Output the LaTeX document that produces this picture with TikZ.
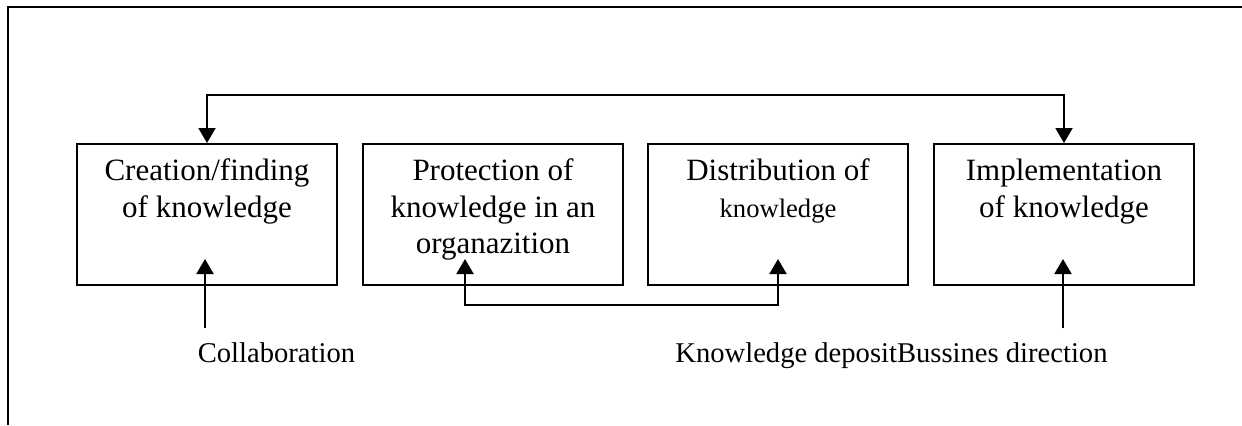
\documentclass[tikz,border=0pt]{standalone}
\usepackage{fontspec}
\setmainfont{Liberation Serif}
\usetikzlibrary{arrows.meta}
\tikzset{ktip/.tip={Triangle[width=8.5pt,length=7.5pt]}}
\begin{document}
\begin{tikzpicture}[x=0.5pt,y=-0.5pt,
  box/.style={draw,line width=1pt,minimum width=130pt,minimum height=70.5pt,inner sep=0pt,anchor=north},
  btxt/.style={anchor=base,inner sep=0pt,font=\fontsize{15.5}{18.5}\selectfont},
  stxt/.style={anchor=base,inner sep=0pt,font=\fontsize{13.3}{16}\selectfont},
  ltxt/.style={anchor=base,inner sep=0pt,font=\fontsize{14.3}{17}\selectfont},
  conn/.style={line width=1pt},
  frame/.style={line width=1.1pt}]
\useasboundingbox (0,0) rectangle (1242,425);
% frame
\coordinate (fa) at (1242,7);
\coordinate (fb) at (8,7);
\coordinate (fc) at (8,425);
\draw[frame] (fa) -- (fb) -- (fc);
% boxes
\node[box] (b1) at (207,143) {};
\node[box] (b2) at (493,143) {};
\node[box] (b3) at (778,143) {};
\node[box] (b4) at (1064,143) {};
% box texts
\node[btxt] (t1a) at (207,180) {Creation/finding};
\node[btxt] (t1b) at (207,217) {of knowledge};
\node[btxt] (t2a) at (493,180) {Protection of};
\node[btxt] (t2b) at (493,217) {knowledge in an};
\node[btxt] (t2c) at (493,253) {organazition};
\node[btxt] (t3a) at (778,180) {Distribution of};
\node[stxt] (t3b) at (778,217) {knowledge};
\node[btxt] (t4a) at (1064,180) {Implementation};
\node[btxt] (t4b) at (1064,217) {of knowledge};
% top connector
\coordinate (top) at (635,95);
\draw[conn,ktip-ktip] (b1.north) |- (top) -| (b4.north);
% bottom connector
\coordinate (p2) at (465,259);
\coordinate (p3) at (778,259);
\coordinate (bot) at (621,305);
\draw[conn,ktip-ktip] (p2) |- (bot) -| (p3);
% side arrows
\coordinate (s1) at (205,328);
\coordinate (s1t) at (205,259);
\coordinate (s4) at (1063,328);
\coordinate (s4t) at (1063,259);
\draw[conn,-ktip] (s1) -- (s1t);
\draw[conn,-ktip] (s4) -- (s4t);
% labels
\node[ltxt] (l1) at (276.5,362) {Collaboration};
\node[ltxt] (l2) at (891.5,362) {Knowledge depositBussines direction};
\end{tikzpicture}
\end{document}
